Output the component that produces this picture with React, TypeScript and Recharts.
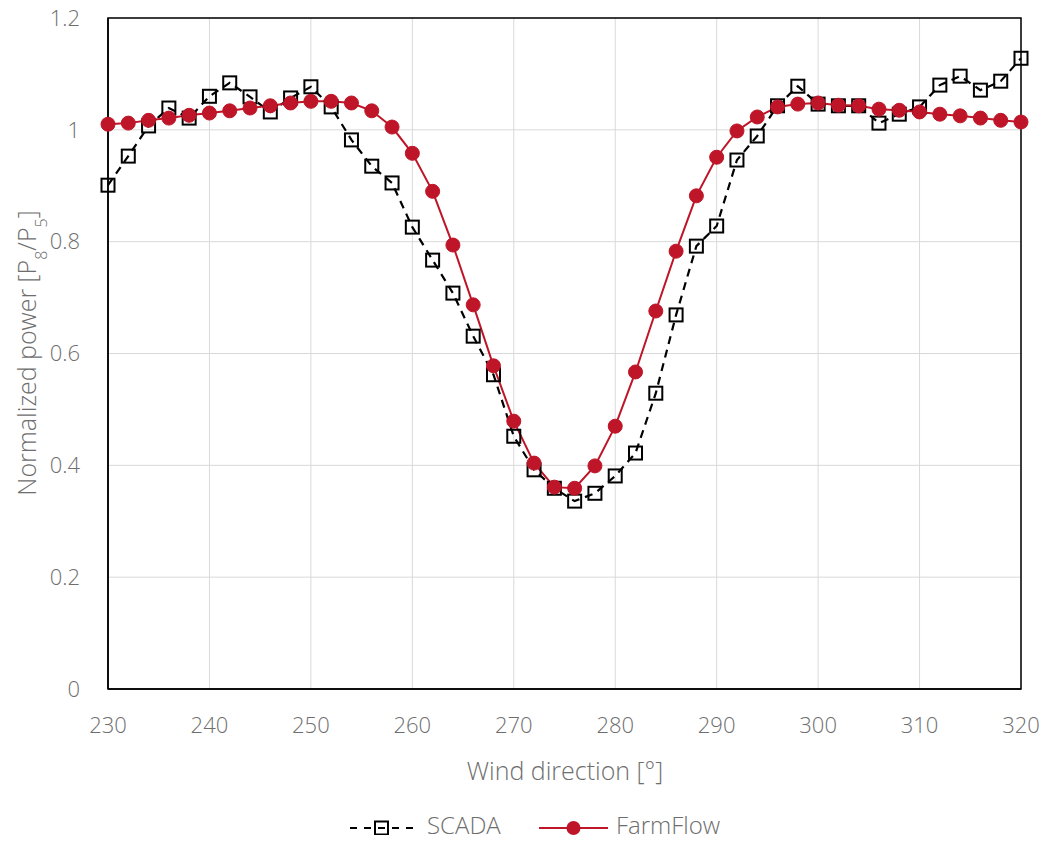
import React from "react";
import {
  LineChart,
  Line,
  XAxis,
  YAxis,
  CartesianGrid,
  ReferenceArea,
} from "recharts";

const directions = [
  230, 232, 234, 236, 238, 240, 242, 244, 246, 248, 250, 252, 254, 256, 258, 260,
  262, 264, 266, 268, 270, 272, 274, 276, 278, 280, 282, 284, 286, 288, 290, 292,
  294, 296, 298, 300, 302, 304, 306, 308, 310, 312, 314, 316, 318, 320,
];

const scada = [
  0.901, 0.953, 1.007, 1.039, 1.021, 1.06, 1.084, 1.059, 1.032, 1.057, 1.077, 1.041,
  0.982, 0.935, 0.905, 0.826, 0.767, 0.708, 0.631, 0.562, 0.452, 0.392, 0.359, 0.336,
  0.35, 0.381, 0.422, 0.529, 0.669, 0.792, 0.828, 0.946, 0.989, 1.043, 1.078, 1.046,
  1.043, 1.043, 1.012, 1.028, 1.041, 1.08, 1.096, 1.071, 1.087, 1.128,
];

const farmflow = [
  1.01, 1.012, 1.017, 1.021, 1.026, 1.03, 1.034, 1.039, 1.043, 1.048, 1.051, 1.051,
  1.048, 1.034, 1.005, 0.958, 0.89, 0.794, 0.687, 0.578, 0.479, 0.404, 0.361, 0.359,
  0.399, 0.47, 0.567, 0.676, 0.783, 0.882, 0.951, 0.998, 1.023, 1.041, 1.046, 1.048,
  1.044, 1.043, 1.037, 1.035, 1.032, 1.028, 1.025, 1.021, 1.017, 1.014,
];

const xTicks = [230, 240, 250, 260, 270, 280, 290, 300, 310, 320];
const yTicks = [0, 0.2, 0.4, 0.6, 0.8, 1, 1.2];

const data = directions.map((d, i) => ({ dir: d, scada: scada[i], farmflow: farmflow[i] }));

const RED = "#BE1528";
const FONT = "'Open Sans', 'Noto Sans', sans-serif";
const GRAY = "#6e6e6e";

const SquareDot = (props: any) => {
  const { cx, cy, index } = props;
  if (cx == null || cy == null) return null;
  return (
    <rect
      key={`sq-${index}`}
      x={cx - 6.5}
      y={cy - 6.5}
      width={13}
      height={13}
      fill="none"
      stroke="#000"
      strokeWidth={2}
    />
  );
};

const YLabel = () => (
  <text
    x={0}
    y={0}
    transform="translate(36,353) rotate(-90)"
    textAnchor="middle"
    fontFamily={FONT}
    fontWeight={300}
    fontSize={25}
    fill={GRAY}
  >
    Normalized power [P
    <tspan baselineShift="sub" fontSize={16}>8</tspan>
    <tspan>/P</tspan>
    <tspan baselineShift="sub" fontSize={16}>5</tspan>
    <tspan>]</tspan>
  </text>
);

export default function App() {
  return (
    <div style={{ width: 1048, height: 843, position: "relative", margin: -8, fontFamily: FONT }}>
      <LineChart
        width={1048}
        height={843}
        data={data}
        margin={{ top: 18, right: 27, bottom: 124, left: 48 }}
      >
        <CartesianGrid stroke="#d9d9d9" strokeWidth={1} />
        <XAxis
          dataKey="dir"
          type="number"
          domain={[230, 320]}
          ticks={xTicks}
          tickLine={false}
          axisLine={{ stroke: "#000", strokeWidth: 1.5 }}
          tick={{ fill: GRAY, fontSize: 22, fontFamily: FONT, fontWeight: 300 }}
          tickSize={0}
          tickMargin={28}
          height={30}
          interval={0}
        />
        <YAxis
          type="number"
          domain={[0, 1.2]}
          ticks={yTicks}
          tickLine={false}
          axisLine={{ stroke: "#000", strokeWidth: 1.5 }}
          tick={{ fill: GRAY, fontSize: 22, fontFamily: FONT, fontWeight: 300 }}
          tickFormatter={(v: number) => String(Math.round(v * 10) / 10)}
          tickSize={0}
          tickMargin={28}
          width={60}
          interval={0}
        />
        <ReferenceArea
          x1={230}
          x2={320}
          y1={0}
          y2={1.2}
          fill="none"
          stroke="#000"
          strokeWidth={1.5}
          fillOpacity={0}
        />
        <Line
          dataKey="scada"
          stroke="#000"
          strokeWidth={2.2}
          strokeDasharray="8 6"
          dot={SquareDot}
          isAnimationActive={false}
        />
        <Line
          dataKey="farmflow"
          stroke={RED}
          strokeWidth={2}
          dot={{ r: 7, fill: RED, stroke: RED, strokeWidth: 1 }}
          isAnimationActive={false}
        />
        <YLabel />
        <text
          x={565}
          y={773}
          textAnchor="middle"
          dominantBaseline="middle"
          fontFamily={FONT}
          fontWeight={300}
          fontSize={25}
          fill={GRAY}
        >
          Wind direction [°]
        </text>
      </LineChart>
      <svg
        width={1048}
        height={40}
        style={{ position: "absolute", left: 0, top: 808 }}
      >
        <g>
          <line x1={350} y1={20} x2={413} y2={20} stroke="#000" strokeWidth={2.2} strokeDasharray="7 7" />
          <rect x={375} y={13.5} width={13} height={13} fill="none" stroke="#000" strokeWidth={2} />
          <text x={427} y={20} dominantBaseline="middle" fontFamily={FONT} fontWeight={300} fontSize={24} fill={GRAY}>
            SCADA
          </text>
          <line x1={539} y1={20} x2={608} y2={20} stroke={RED} strokeWidth={2} />
          <circle cx={573.5} cy={20} r={7} fill={RED} />
          <text x={616} y={20} dominantBaseline="middle" fontFamily={FONT} fontWeight={300} fontSize={24} fill={GRAY}>
            FarmFlow
          </text>
        </g>
      </svg>
    </div>
  );
}
